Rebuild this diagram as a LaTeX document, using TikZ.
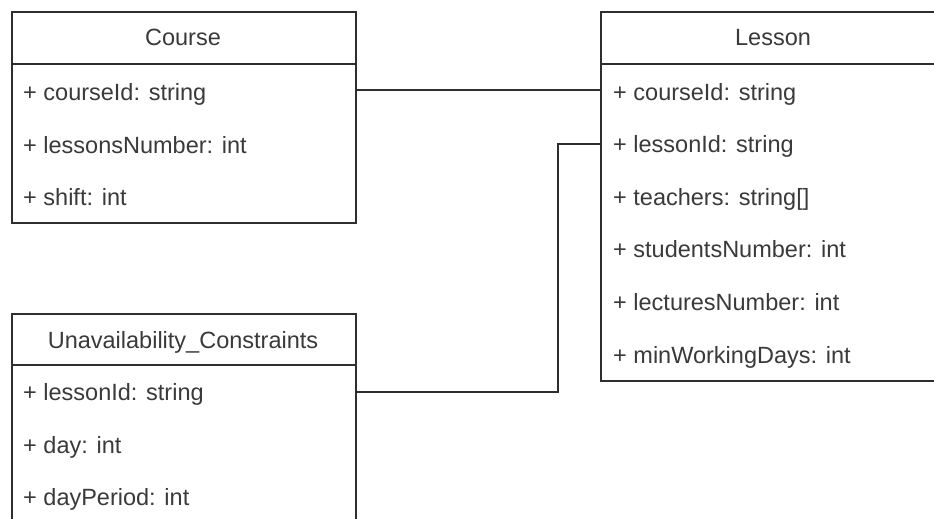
\documentclass[tikz,border=0pt]{standalone}
\usepackage{fontspec}
\setmainfont{Liberation Sans}
\begin{document}
\begin{tikzpicture}[x=1pt,y=-1pt,
  box/.style={draw=linec, line width=1.6pt, fill=white, anchor=north west, inner sep=0pt},
  title/.style={text=textc, font=\fontsize{23.5}{28}\selectfont, anchor=base, inner sep=0pt},
  attr/.style={text=textc, font=\fontsize{23.5}{28}\selectfont, anchor=base west, inner sep=0pt},
  sep/.style={draw=linec, line width=1.6pt},
  conn/.style={draw=linec, line width=1.6pt}]
\definecolor{linec}{HTML}{2E2E2E}
\definecolor{textc}{HTML}{3A3A3A}
\useasboundingbox (0,0) rectangle (934,519);
\clip (0,0) rectangle (934,519);
\fill[white] (0,0) rectangle (934,519);

% Course
\node[box, minimum width=344pt, minimum height=211pt] (course) at (11,11) {};
\draw[sep] (11,64) -- (355,64);
\node[title] (ctitle) at (183,46) {Course};
\node[attr] (c1) at (23,100) {+ courseId: string};
\node[attr] (c2) at (23,153) {+ lessonsNumber: int};
\node[attr] (c3) at (23,205) {+ shift: int};

% Lesson
\node[box, minimum width=346pt, minimum height=369pt] (lesson) at (600,11) {};
\draw[sep] (600,64) -- (946,64);
\node[title] (ltitle) at (773,46) {Lesson};
\node[attr] (l1) at (613,100) {+ courseId: string};
\node[attr] (l2) at (613,152) {+ lessonId: string};
\node[attr] (l3) at (613,205) {+ teachers: string[]};
\node[attr] (l4) at (613,257) {+ studentsNumber: int};
\node[attr] (l5) at (613,310) {+ lecturesNumber: int};
\node[attr] (l6) at (613,363) {+ minWorkingDays: int};

% Unavailability
\node[box, minimum width=344pt, minimum height=230pt] (unav) at (11,313) {};
\draw[sep] (11,365) -- (355,365);
\node[title] (utitle) at (183,348) {Unavailability\_Constraints};
\node[attr] (u1) at (23,400) {+ lessonId: string};
\node[attr] (u2) at (23,453) {+ day: int};
\node[attr] (u3) at (23,505) {+ dayPeriod: int};

% connectors
\coordinate (k1) at (0,90);
\coordinate (k2) at (0,144);
\coordinate (k3) at (0,392);
\coordinate (bend) at (558,0);
\draw[conn] (course.east |- k1) -- (lesson.west |- k1);
\draw[conn] (unav.east |- k3) -- (bend |- k3) -- (bend |- k2) -- (lesson.west |- k2);
\end{tikzpicture}
\end{document}
